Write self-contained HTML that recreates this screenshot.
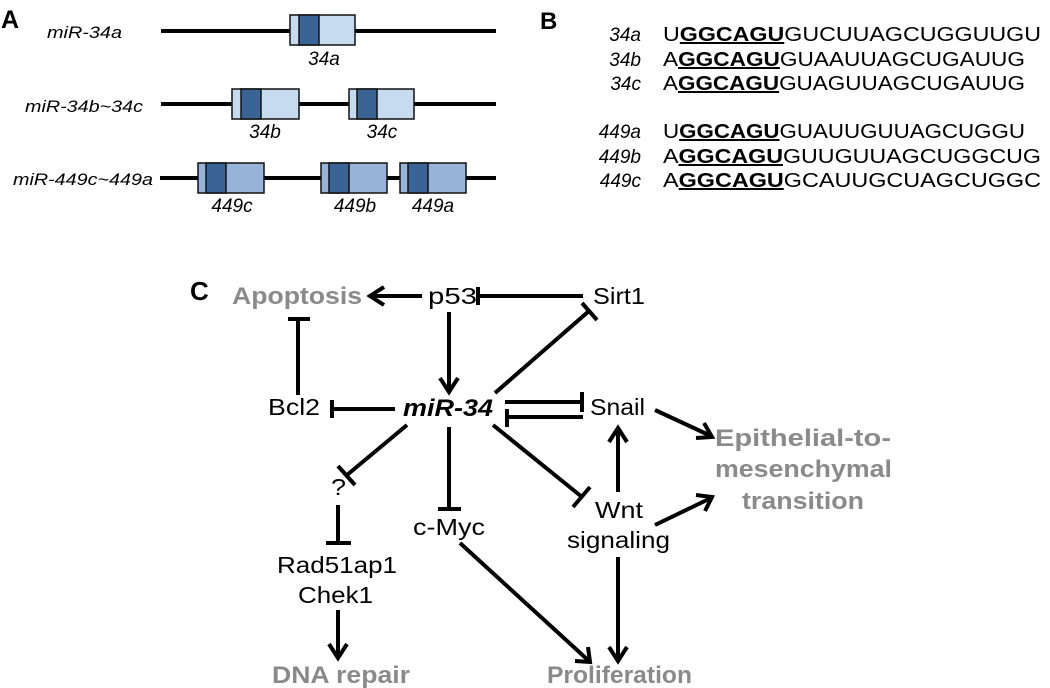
<!DOCTYPE html>
<html><head><meta charset="utf-8"><style>
html,body{margin:0;padding:0;background:#fff;}
svg{display:block;font-family:"Liberation Sans",Arial,sans-serif;}
</style></head><body>
<svg width="1050" height="688" viewBox="0 0 1050 688" xmlns="http://www.w3.org/2000/svg">
<!-- Panel A -->
<text x="1" y="28" font-size="25" font-weight="bold">A</text>
<g font-size="17" font-style="italic">
<text x="47" y="38" textLength="75" lengthAdjust="spacingAndGlyphs">miR-34a</text>
<text x="25" y="112" textLength="118" lengthAdjust="spacingAndGlyphs">miR-34b~34c</text>
<text x="13" y="185" textLength="140" lengthAdjust="spacingAndGlyphs">miR-449c~449a</text>
</g>
<g stroke="#000" stroke-width="4">
<line x1="161" y1="31" x2="496" y2="31"/>
<line x1="161" y1="104" x2="496" y2="104"/>
<line x1="160" y1="178" x2="496" y2="178"/>
</g>
<g stroke="#111" stroke-width="1.5">
<rect x="290" y="15" width="65" height="30" fill="#c6daf0"/><rect x="299" y="15" width="20" height="30" fill="#3a6496"/>
<rect x="232" y="89" width="67" height="30" fill="#c6daf0"/><rect x="241" y="89" width="20" height="30" fill="#3a6496"/>
<rect x="349" y="89" width="65" height="30" fill="#c6daf0"/><rect x="357" y="89" width="20" height="30" fill="#3a6496"/>
<rect x="198" y="163" width="66" height="30" fill="#97b3d8"/><rect x="206" y="163" width="20" height="30" fill="#3a6496"/>
<rect x="321" y="163" width="66" height="30" fill="#97b3d8"/><rect x="329" y="163" width="20" height="30" fill="#3a6496"/>
<rect x="400" y="163" width="66" height="30" fill="#97b3d8"/><rect x="408" y="163" width="20" height="30" fill="#3a6496"/>
</g>
<g font-size="19" font-style="italic" text-anchor="middle">
<text x="324" y="65">34a</text>
<text x="265" y="138">34b</text>
<text x="382" y="138">34c</text>
<text x="232" y="212">449c</text>
<text x="355" y="212">449b</text>
<text x="433" y="212">449a</text>
</g>
<!-- Panel B -->
<text x="540" y="29" font-size="24" font-weight="bold">B</text>
<g font-size="19" font-style="italic" text-anchor="end">
<text x="641" y="41">34a</text><text x="641" y="66">34b</text><text x="641" y="90">34c</text>
<text x="641" y="138">449a</text><text x="641" y="163">449b</text><text x="641" y="187">449c</text>
</g>
<g font-size="20">
<text x="663" y="41" textLength="378" lengthAdjust="spacingAndGlyphs">U<tspan font-weight="bold" text-decoration="underline">GGCAGU</tspan>GUCUUAGCUGGUUGU</text>
<text x="663" y="66" textLength="362" lengthAdjust="spacingAndGlyphs">A<tspan font-weight="bold" text-decoration="underline">GGCAGU</tspan>GUAAUUAGCUGAUUG</text>
<text x="663" y="90" textLength="362" lengthAdjust="spacingAndGlyphs">A<tspan font-weight="bold" text-decoration="underline">GGCAGU</tspan>GUAGUUAGCUGAUUG</text>
<text x="663" y="138" textLength="362" lengthAdjust="spacingAndGlyphs">U<tspan font-weight="bold" text-decoration="underline">GGCAGU</tspan>GUAUUGUUAGCUGGU</text>
<text x="663" y="163" textLength="378" lengthAdjust="spacingAndGlyphs">A<tspan font-weight="bold" text-decoration="underline">GGCAGU</tspan>GUUGUUAGCUGGCUG</text>
<text x="663" y="187" textLength="378" lengthAdjust="spacingAndGlyphs">A<tspan font-weight="bold" text-decoration="underline">GGCAGU</tspan>GCAUUGCUAGCUGGC</text>
</g>
<!-- Panel C -->
<text x="190" y="300" font-size="26" font-weight="bold">C</text>
<g font-size="24" font-weight="bold" fill="#8a8a8a">
<text x="232" y="304" textLength="130" lengthAdjust="spacingAndGlyphs">Apoptosis</text>
<text x="715" y="446" textLength="176" lengthAdjust="spacingAndGlyphs">Epithelial-to-</text>
<text x="715" y="477" textLength="177" lengthAdjust="spacingAndGlyphs">mesenchymal</text>
<text x="742" y="509" textLength="122" lengthAdjust="spacingAndGlyphs">transition</text>
<text x="272" y="683" textLength="138" lengthAdjust="spacingAndGlyphs">DNA repair</text>
<text x="547" y="683" textLength="145" lengthAdjust="spacingAndGlyphs">Proliferation</text>
</g>
<g font-size="23">
<text x="428" y="304" textLength="49" lengthAdjust="spacingAndGlyphs">p53</text>
<text x="593" y="304" textLength="52" lengthAdjust="spacingAndGlyphs">Sirt1</text>
<text x="268" y="415" textLength="52" lengthAdjust="spacingAndGlyphs">Bcl2</text>
<text x="590" y="415" textLength="55" lengthAdjust="spacingAndGlyphs">Snail</text>
<text x="331" y="495" textLength="15" lengthAdjust="spacingAndGlyphs">?</text>
<text x="413" y="535" textLength="72" lengthAdjust="spacingAndGlyphs">c-Myc</text>
<text x="595" y="518" textLength="48" lengthAdjust="spacingAndGlyphs">Wnt</text>
<text x="567" y="548" textLength="103" lengthAdjust="spacingAndGlyphs">signaling</text>
<text x="277" y="573" textLength="120" lengthAdjust="spacingAndGlyphs">Rad51ap1</text>
<text x="298" y="603" textLength="75" lengthAdjust="spacingAndGlyphs">Chek1</text>
</g>
<text x="403" y="416" font-size="24" font-weight="bold" font-style="italic" textLength="90" lengthAdjust="spacingAndGlyphs">miR-34</text>
<g stroke="#000" stroke-width="4" fill="none">
<!-- p53 -> Apoptosis -->
<line x1="422" y1="296" x2="372" y2="296"/><polyline points="384,287 370,296 384,305"/>
<!-- Sirt1 -| p53 -->
<line x1="583" y1="296" x2="478" y2="296"/><line x1="478" y1="287" x2="478" y2="305"/>
<!-- p53 -> miR-34 -->
<line x1="449" y1="312" x2="449" y2="390"/><polyline points="440,378 449,392 458,378"/>
<!-- miR-34 -| Bcl2 -->
<line x1="395" y1="409" x2="332" y2="409"/><line x1="332" y1="400" x2="332" y2="418"/>
<!-- Bcl2 -| Apoptosis -->
<line x1="298" y1="395" x2="298" y2="319"/><line x1="288" y1="319" x2="310" y2="319"/>
<!-- miR-34 -| Sirt1 -->
<line x1="495" y1="393" x2="589" y2="311"/><line x1="582" y1="303" x2="597" y2="320"/>
<!-- miR-34 -| Snail -->
<line x1="505" y1="402" x2="582" y2="402"/><line x1="582" y1="392" x2="582" y2="412"/>
<!-- Snail -| miR-34 -->
<line x1="583" y1="417" x2="507" y2="417"/><line x1="507" y1="409" x2="507" y2="427"/>
<!-- Snail -> EMT -->
<line x1="655" y1="410" x2="711" y2="436"/><polyline points="696,438 712,437 704,423"/>
<!-- miR-34 -| Wnt -->
<line x1="493" y1="425" x2="582" y2="497"/><line x1="573" y1="507" x2="590" y2="487"/>
<!-- miR-34 -| ? -->
<line x1="407" y1="425" x2="347" y2="475"/><line x1="338" y1="466" x2="355" y2="485"/>
<!-- ? -| Rad51 -->
<line x1="338" y1="505" x2="338" y2="543"/><line x1="326" y1="543" x2="351" y2="543"/>
<!-- Chek1 -> DNA repair -->
<line x1="338" y1="610" x2="338" y2="656"/><polyline points="329,644 338,658 347,644"/>
<!-- miR-34 -| c-Myc -->
<line x1="449" y1="427" x2="449" y2="509"/><line x1="438" y1="509" x2="461" y2="509"/>
<!-- c-Myc -> Proliferation -->
<line x1="460" y1="543" x2="589" y2="661"/><polyline points="575,661 590,662 588,647"/>
<!-- Wnt -> Snail -->
<line x1="618" y1="492" x2="618" y2="430"/><polyline points="609,442 618,428 627,442"/>
<!-- Wnt -> EMT -->
<line x1="655" y1="525" x2="711" y2="498"/><polyline points="696,495 712,497 705,511"/>
<!-- Wnt -> Proliferation -->
<line x1="618" y1="557" x2="618" y2="659"/><polyline points="609,647 618,661 627,647"/>
</g>
</svg>
</body></html>
